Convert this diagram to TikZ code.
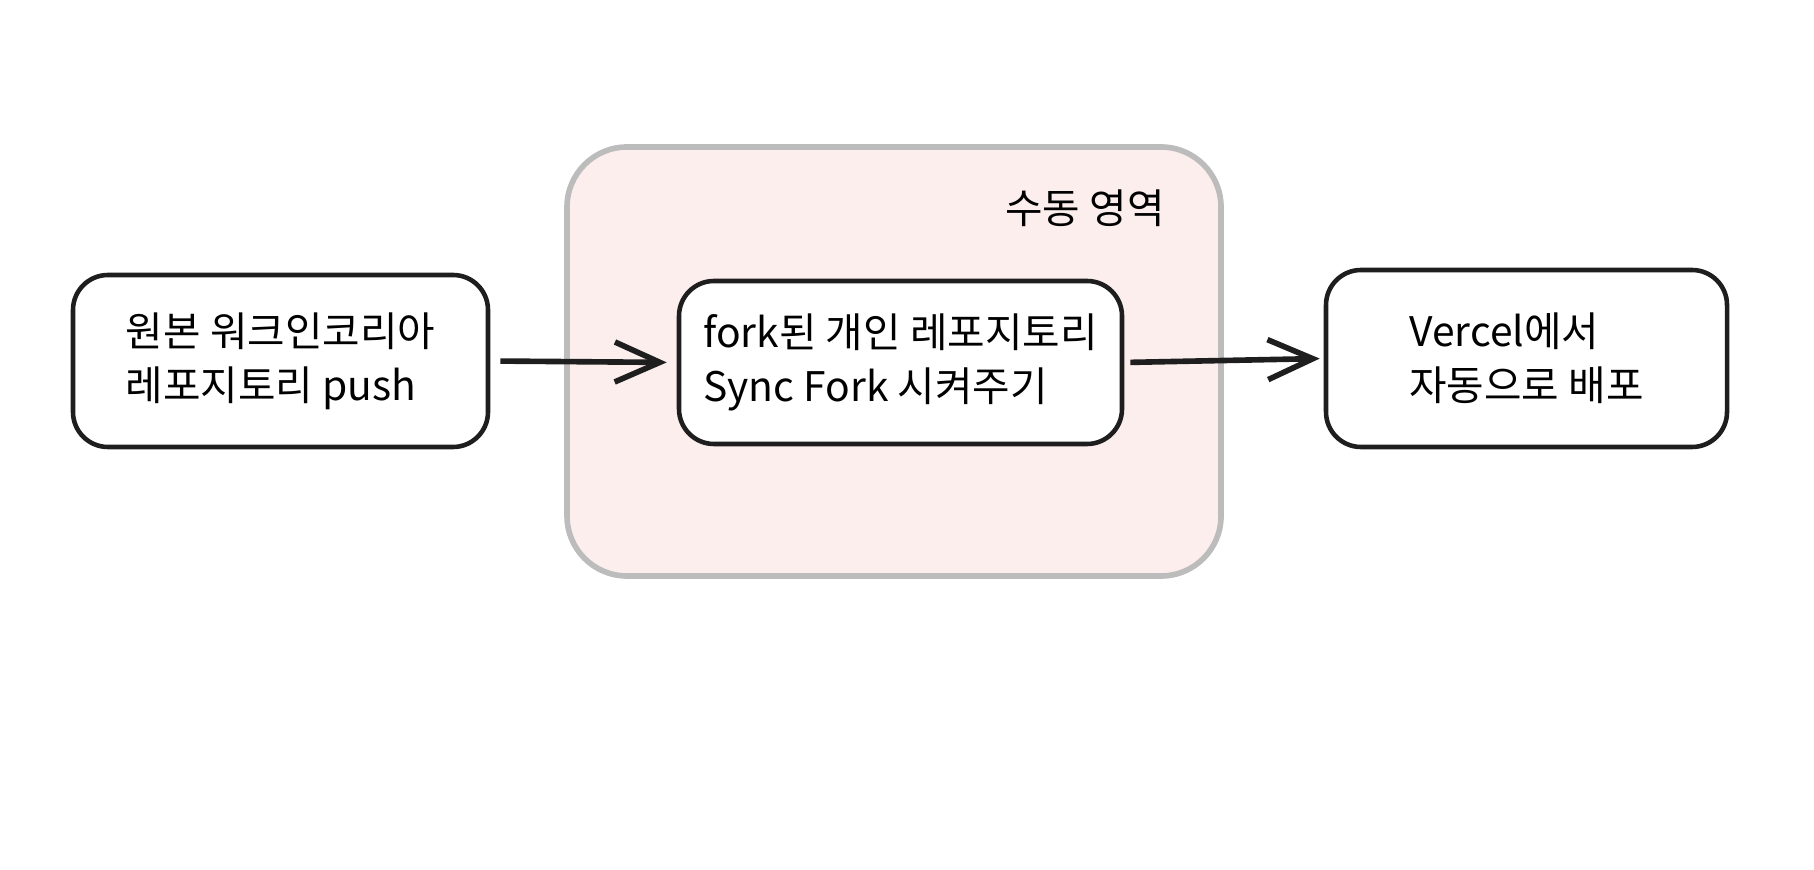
\documentclass[tikz,border=0pt]{standalone}
\usepackage{fontspec}
\newfontfamily\krfont{Noto Sans CJK KR}
\usetikzlibrary{arrows.meta, positioning}
\definecolor{ink}{RGB}{30,30,30}
\definecolor{zonefill}{RGB}{253,238,238}
\definecolor{zoneline}{RGB}{188,188,188}

\begin{document}
\begin{tikzpicture}[font=\krfont\fontsize{11.6}{15.4}\selectfont,
    box/.style={draw=ink, fill=white, line width=1.3pt, rounded corners=0.35cm, align=left},
    flow/.style={-{Straight Barb[length=4.5mm, width=4mm]}, draw=ink, line width=1.6pt}]
                    \useasboundingbox (0,0) rectangle (18.14,-8.70);
                    % manual zone
                    \node[draw=zoneline, fill=zonefill, line width=1.6pt, rounded corners=0.6cm, minimum width=6.54cm, minimum height=4.29cm] (zone) at (8.94,-3.615) {};
                    \node (zonelabel) at (10.85,-2.08) {수동 영역};
                    \node[box, minimum width=4.15cm, minimum height=1.72cm] (origin) at (2.805,-3.61) {원본 워크인코리아\\레포지토리 push};
                    \node[box, minimum width=4.43cm, minimum height=1.63cm] (fork) at (9.005,-3.625) {fork된 개인 레포지토리\\Sync Fork 시켜주기};
                    \node[box, minimum width=4.01cm, minimum height=1.77cm] (deploy) at (15.265,-3.585) {Vercel에서\\자동으로 배포};
                    \draw[flow, shorten <=1mm, shorten >=1mm] (origin.east) -- (fork.west);
                    \draw[flow, shorten <=0.6mm, shorten >=0.4mm] (fork.east) -- (deploy.west);
                \end{tikzpicture}
\end{document}
